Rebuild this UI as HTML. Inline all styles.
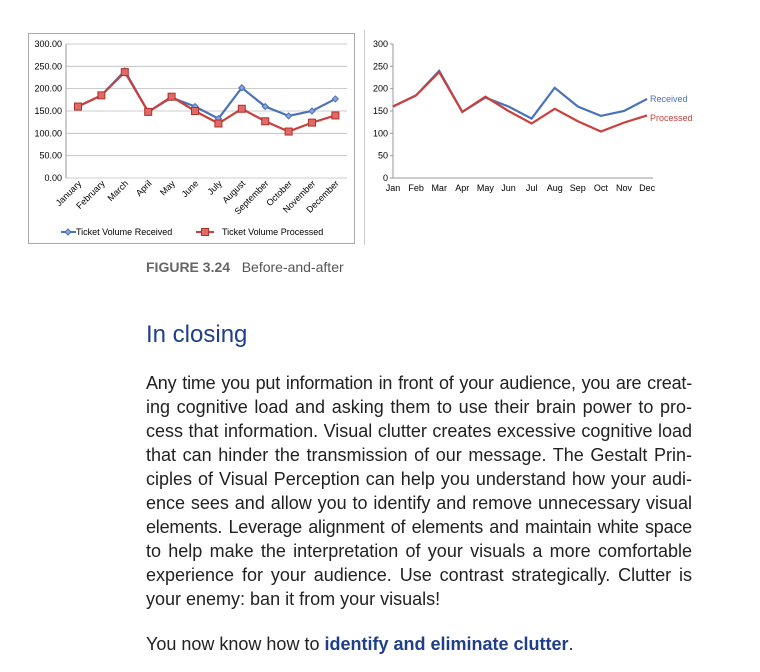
<!DOCTYPE html>
<html><head><meta charset="utf-8"><style>
body{margin:0;width:760px;height:672px;background:#fff;position:relative;overflow:hidden;font-family:"Liberation Sans",sans-serif}
svg{position:absolute;left:0;top:0}
.t{position:absolute;left:146px;width:546px;font-size:18px;color:#222;letter-spacing:0;white-space:nowrap}
.j{text-align:justify;text-align-last:justify;white-space:normal;height:24px;overflow:visible}
.n{word-spacing:-4px;letter-spacing:-0.2px}
</style></head><body>
<svg width="760" height="300" id="s" font-family="Liberation Sans, sans-serif"></svg>
<div style="position:absolute;left:146px;top:259px;font-size:14px;color:#555"><b style="color:#666">FIGURE 3.24</b>&nbsp;&nbsp;&nbsp;Before-and-after</div>
<div style="position:absolute;left:146px;top:321px;font-size:24px;color:#1f3f8a">In closing</div>
<div class="t j n" style="top:373px">Any time you put information in front of your audience, you are creat-</div>
<div class="t j" style="top:397px">ing cognitive load and asking them to use their brain power to pro-</div>
<div class="t j" style="top:421px">cess that information. Visual clutter creates excessive cognitive load</div>
<div class="t j" style="top:445px">that can hinder the transmission of our message. The Gestalt Prin-</div>
<div class="t j" style="top:469px">ciples of Visual Perception can help you understand how your audi-</div>
<div class="t j" style="top:493px">ence sees and allow you to identify and remove unnecessary visual</div>
<div class="t j n" style="top:517px">elements. Leverage alignment of elements and maintain white space</div>
<div class="t j" style="top:541px">to help make the interpretation of your visuals a more comfortable</div>
<div class="t j" style="top:565px">experience for your audience. Use contrast strategically. Clutter is</div>
<div class="t" style="top:589px">your enemy: ban it from your visuals!</div>
<div class="t" style="top:634px">You now know how to <b style="color:#1f3f8a">identify and eliminate clutter</b>.</div>
<script>
var R=[160,185,240,148,180,160,133,202,160,139,150,177],P=[160,185,237,148,182,150,122,155,127,104,124,140];
var y=v=>178-v*0.4467,h='';
h+='<rect x="28.5" y="33.5" width="326" height="210" fill="none" stroke="#aaa"/>';
h+='<line x1="364.5" y1="30" x2="364.5" y2="245" stroke="#ccc"/>';
var lab=['0.00','50.00','100.00','150.00','200.00','250.00','300.00'];
for(var i=0;i<7;i++){var yy=y(i*50);h+='<line x1="66" x2="347" y1="'+yy+'" y2="'+yy+'" stroke="#bbb" stroke-width="0.8"/>';h+='<text x="62" y="'+(yy+3)+'" font-size="9" text-anchor="end">'+lab[i]+'</text>';
h+='<text x="388" y="'+(yy+3)+'" font-size="9" text-anchor="end">'+(i*50)+'</text><line x1="390" x2="393" y1="'+yy+'" y2="'+yy+'" stroke="#999"/>';}
h+='<line x1="66" y1="44" x2="66" y2="178" stroke="#999"/><line x1="393" y1="44" x2="393" y2="178" stroke="#999"/><line x1="393" y1="178" x2="653" y2="178" stroke="#999"/>';
var mo=['January','February','March','April','May','June','July','August','September','October','November','December'],ms=['Jan','Feb','Mar','Apr','May','Jun','Jul','Aug','Sep','Oct','Nov','Dec'];
var lx=i=>78+23.4*i,rx=i=>393+23.1*i;
var pl=(f,d)=>d.map((v,i)=>f(i)+','+y(v)).join(' ');
for(i=0;i<12;i++){h+='<text transform="translate('+(lx(i)+4)+',184) rotate(-45)" font-size="9" text-anchor="end">'+mo[i]+'</text>';
h+='<text x="'+rx(i)+'" y="191" font-size="9" text-anchor="middle">'+ms[i]+'</text>';}
h+='<polyline points="'+pl(lx,R)+'" fill="none" stroke="#4a72b8" stroke-width="2.2"/>';
h+='<polyline points="'+pl(lx,P)+'" fill="none" stroke="#c9403c" stroke-width="2.2"/>';
for(i=0;i<12;i++){var X=lx(i),Y=y(R[i]);h+='<polygon points="'+X+','+(Y-3)+' '+(X+3)+','+Y+' '+X+','+(Y+3)+' '+(X-3)+','+Y+'" fill="#8aa6dc" stroke="#4a72b8"/>';
Y=y(P[i]);h+='<rect x="'+(X-3.5)+'" y="'+(Y-3.5)+'" width="7" height="7" fill="#e06a66" stroke="#b0302c"/>';}
h+='<polyline points="'+pl(rx,R)+'" fill="none" stroke="#4a72b8" stroke-width="2.2"/>';
h+='<polyline points="'+pl(rx,P)+'" fill="none" stroke="#c9403c" stroke-width="2.2"/>';
h+='<line x1="61" x2="76" y1="232" y2="232" stroke="#4a72b8" stroke-width="2"/><polygon points="68,229 71,232 68,235 65,232" fill="#8aa6dc" stroke="#4a72b8"/><text x="76" y="235" font-size="9">Ticket Volume Received</text>';
h+='<line x1="196" x2="214" y1="232" y2="232" stroke="#c9403c" stroke-width="2"/><rect x="201.5" y="228.5" width="7" height="7" fill="#e06a66" stroke="#b0302c"/><text x="222" y="235" font-size="9">Ticket Volume Processed</text>';
h+='<text x="650" y="102" font-size="9" fill="#4a72b8">Received</text><text x="650" y="121" font-size="9" fill="#c9403c">Processed</text>';
document.getElementById('s').innerHTML=h;
</script>
</body></html>
